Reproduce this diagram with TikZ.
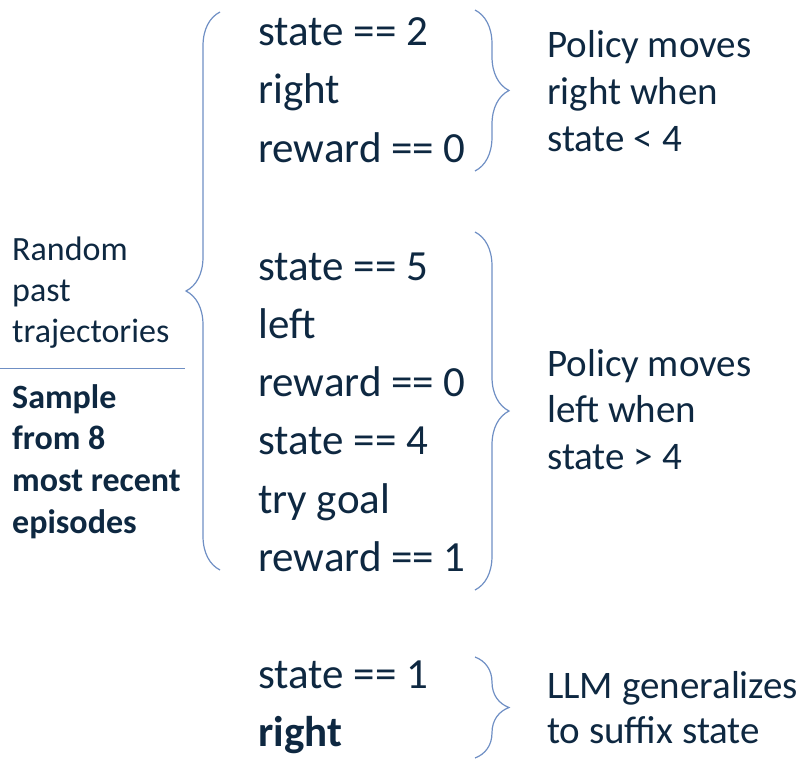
\documentclass[tikz,border=0pt]{standalone}
\usepackage{fontspec}
\setmainfont{Carlito}
\usetikzlibrary{decorations.pathreplacing}
\definecolor{navyText}{HTML}{0E2841}
\definecolor{braceBlue}{HTML}{6F8FC4}

\begin{document}
\begin{tikzpicture}[x=1pt, y=-1pt, color=navyText,
    traj/.style={anchor=base west, inner sep=0pt, font=\fontsize{43}{52}\selectfont},
    note/.style={anchor=base west, inner sep=0pt, font=\fontsize{39}{47}\selectfont},
    side/.style={anchor=base west, inner sep=0pt, font=\fontsize{34}{41}\selectfont},
    curly/.style={draw=braceBlue, line width=1.2pt, decorate,
        decoration={brace, amplitude=34pt}}]

    \useasboundingbox (0,0) rectangle (809,766);

    % prompt lines
    \foreach \txt [count=\i] in {state == 2, right, reward == 0}
        \node[traj] (a\i) at (258, {45+58.5*(\i-1)}) {\txt};
    \foreach \txt [count=\i] in {state == 5, left, reward == 0, state == 4, try goal, reward == 1}
        \node[traj] (b\i) at (258, {280+58.3*(\i-1)}) {\txt};
    \node[traj] (c1) at (258,688) {state == 1};
    \node[traj, font=\fontsize{43}{52}\selectfont\bfseries] (c2) at (258,746) {right};

    % left labels
    \foreach \txt [count=\i] in {Random, past, trajectories}
        \node[side] (l\i) at (12, {260+41*(\i-1)}) {\txt};
    \draw[braceBlue, line width=1pt] (0,368) -- (185,368);
    \foreach \txt [count=\i] in {Sample, from 8, most recent, episodes}
        \node[side, font=\fontsize{34}{41}\selectfont\bfseries] (s\i) at (12, {408+41.7*(\i-1)}) {\txt};

    % right labels
    \foreach \txt [count=\i] in {Policy moves, right when, state < 4}
        \node[note] (p\i) at (547, {57+47*(\i-1)}) {\txt};
    \foreach \txt [count=\i] in {Policy moves, left when, state > 4}
        \node[note] (q\i) at (547, {376+46.5*(\i-1)}) {\txt};
    \node[note] (g1) at (547,698) {LLM generalizes};
    \node[note] (g2) at (547,743) {to suffix state};

    % braces
    \draw[curly] (220,570) -- (220,12);
    \draw[curly] (475,10) -- (475,171);
    \draw[curly] (475,232) -- (475,590);
    \draw[curly] (475,657) -- (475,758);

\end{tikzpicture}
\end{document}
